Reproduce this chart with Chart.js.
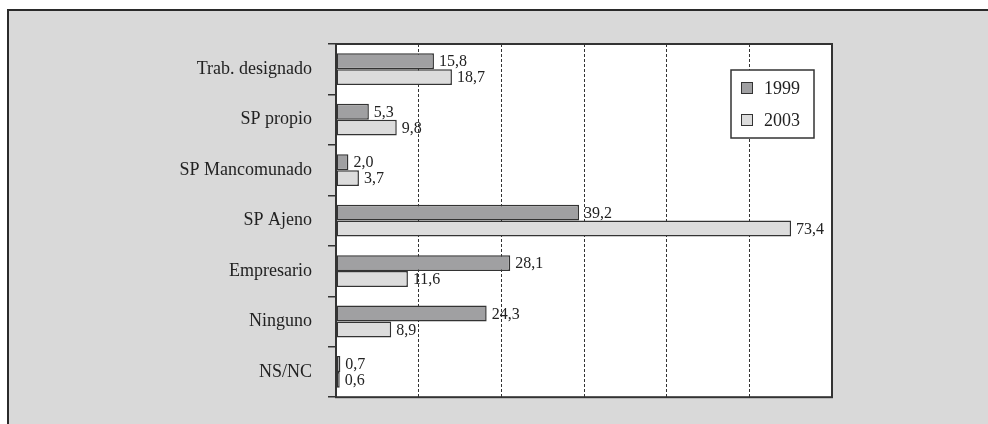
<!DOCTYPE html>
<html>
<head>
<meta charset="utf-8">
<script src="https://cdn.jsdelivr.net/npm/chart.js@4/dist/chart.umd.min.js"></script>
<style>
  html, body { margin: 0; padding: 0; background: #ffffff; }
  #caja { position: relative; width: 988px; height: 424px; }
</style>
</head>
<body>
<div id="caja"><canvas id="grafico" width="988" height="424"></canvas></div>
<script>
const categorias = ["Trab. designado", "SP propio", "SP Mancomunado", "SP Ajeno", "Empresario", "Ninguno", "NS/NC"];
const valores1999 = [15.8, 5.3, 2.0, 39.2, 28.1, 24.3, 0.7];
const valores2003 = [18.7, 9.8, 3.7, 73.4, 11.6, 8.9, 0.6];
const series = ["1999", "2003"];

const fuente = "'Liberation Serif', 'Times New Roman', serif";

// fondo gris con marco, como en el original
const fondo = {
  id: "fondo",
  beforeDraw: (chart) => {
    const ctx = chart.ctx;
    ctx.save();
    ctx.fillStyle = "#ffffff";
    ctx.fillRect(0, 0, chart.width, chart.height);
    ctx.fillStyle = "#d9d9d9";
    ctx.fillRect(7, 9, chart.width - 7, chart.height - 9);
    ctx.strokeStyle = "#2a2a2a";
    ctx.lineWidth = 2;
    ctx.beginPath();
    ctx.moveTo(8, chart.height);
    ctx.lineTo(8, 10);
    ctx.lineTo(chart.width, 10);
    ctx.stroke();
    const a = chart.chartArea;
    ctx.fillStyle = "#ffffff";
    ctx.fillRect(a.left, a.top, a.right - a.left, a.bottom - a.top);
    ctx.restore();
  },
};

// etiquetas de valor, marco del area y leyenda
const etiquetas = {
  id: "etiquetas",
  afterDatasetsDraw: (chart) => {
    const ctx = chart.ctx;
    ctx.save();
    ctx.font = "16px " + fuente;
    ctx.fillStyle = "#222222";
    ctx.textAlign = "left";
    ctx.textBaseline = "middle";
    chart.data.datasets.forEach((ds, i) => {
      chart.getDatasetMeta(i).data.forEach((bar, j) => {
        const texto = ds.data[j].toFixed(1).replace(".", ",");
        ctx.fillText(texto, bar.x + 5, bar.y + 1);
      });
    });

    const a = chart.chartArea;
    ctx.strokeStyle = "#333333";
    ctx.lineWidth = 2;
    ctx.strokeRect(a.left, a.top, a.right - a.left, a.bottom - a.top);

    // leyenda
    const lx = 731, ly = 70, lw = 83, lh = 68;
    ctx.fillStyle = "#ffffff";
    ctx.fillRect(lx, ly, lw, lh);
    ctx.lineWidth = 1.5;
    ctx.strokeStyle = "#333333";
    ctx.strokeRect(lx, ly, lw, lh);
    ctx.font = "18px " + fuente;
    chart.data.datasets.forEach((ds, i) => {
      const y = ly + 18 + i * 32;
      ctx.fillStyle = ds.backgroundColor;
      ctx.fillRect(lx + 10, y - 6, 12, 12);
      ctx.lineWidth = 1;
      ctx.strokeStyle = "#333333";
      ctx.strokeRect(lx + 10.5, y - 5.5, 11, 11);
      ctx.fillStyle = "#222222";
      ctx.fillText(ds.label, lx + 33, y + 1);
    });
    ctx.restore();
  },
};

new Chart(document.getElementById("grafico"), {
  type: "bar",
  plugins: [fondo, etiquetas],
  data: {
    labels: categorias,
    datasets: [
      {
        label: series[0],
        data: valores1999,
        backgroundColor: "#a0a0a2",
        borderColor: "#333333",
        borderWidth: 1.5,
        borderSkipped: false,
      },
      {
        label: series[1],
        data: valores2003,
        backgroundColor: "#dcdcdc",
        borderColor: "#333333",
        borderWidth: 1.5,
        borderSkipped: false,
      },
    ],
  },
  options: {
    indexAxis: "y",
    responsive: false,
    animation: false,
    events: [],
    categoryPercentage: 0.63,
    barPercentage: 1.0,
    layout: {
      padding: { left: 0, right: 156, top: 44, bottom: 25 },
    },
    plugins: {
      legend: { display: false },
      tooltip: { enabled: false },
    },
    scales: {
      x: {
        min: 0,
        max: 80,
        ticks: { display: false, stepSize: 80 / 6 },
        grid: {
          color: "#333333",
          lineWidth: 1,
          drawTicks: false,
        },
        border: { display: false, dash: [3, 2] },
        afterFit: function (scale) {
          scale.height = 0;
        },
      },
      y: {
        ticks: {
          color: "#222222",
          font: { family: fuente, size: 18 },
          padding: 16,
        },
        grid: {
          offset: true,
          drawOnChartArea: false,
          drawTicks: true,
          tickLength: 8,
          color: "#333333",
          lineWidth: 1.5,
        },
        border: { display: false },
        afterFit: function (scale) {
          scale.width = 336;
        },
      },
    },
  },
});
</script>
</body>
</html>
